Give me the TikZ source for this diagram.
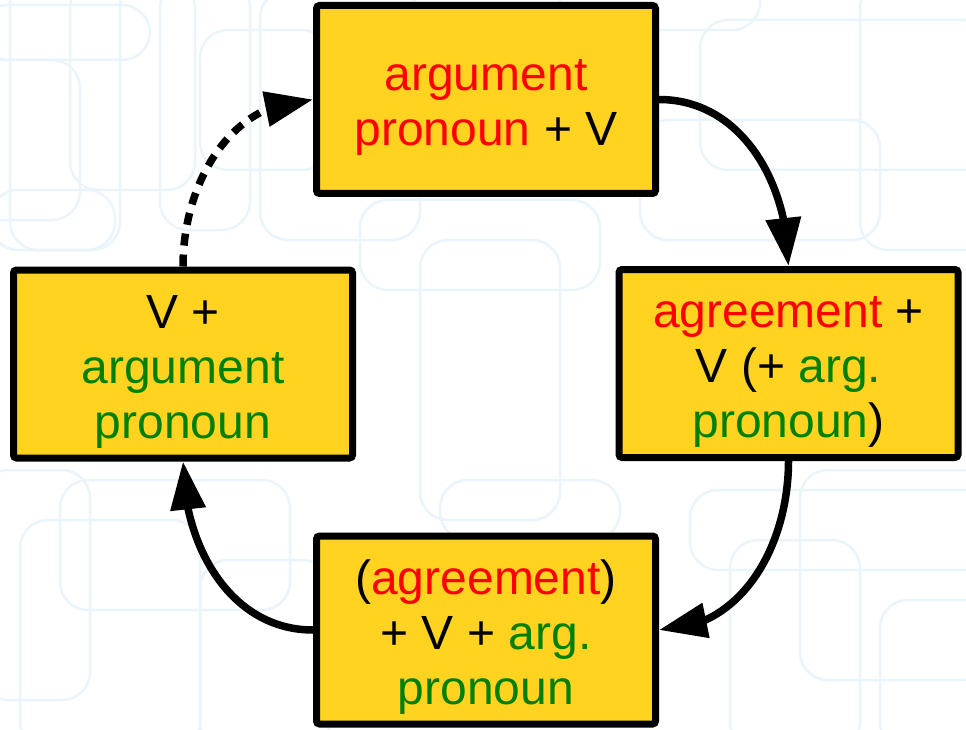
\documentclass[tikz,border=0pt]{standalone}
\usepackage{fontspec}
\setmainfont{Liberation Sans}
\usetikzlibrary{arrows.meta,bending}
\definecolor{boxyellow}{RGB}{255,211,32}
\definecolor{tred}{RGB}{255,0,0}
\definecolor{tgreen}{RGB}{0,128,0}
\definecolor{bgline}{RGB}{234,245,251}
\newcommand\stepcontent[1]{\raisebox{-8pt}[\height][\depth]{\begin{tabular}{@{}c@{}}#1\end{tabular}}}
\begin{document}
\begin{tikzpicture}[x=1pt,y=-1pt,
  stepbox/.style={draw=black, fill=boxyellow, line width=7pt, rounded corners=3pt,
    minimum width=339pt, minimum height=188pt, inner sep=0pt,
    font=\fontsize{48}{55}\selectfont},
  conn/.style={line width=7.5pt, -{Triangle[length=48pt,width=34pt]}},
  bgbox/.style={draw=bgline, line width=2.5pt, rounded corners=28pt}]
\useasboundingbox (0,0) rectangle (966,730);
\fill[white] (0,0) rectangle (966,730);
% faint background pattern
\draw[bgbox] (-20,5) rectangle (150,60);
\draw[bgbox] (10,-30) rectangle (120,250);
\draw[bgbox] (-30,60) rectangle (80,220);
\draw[bgbox] (70,-20) rectangle (195,190);
\draw[bgbox] (-10,190) rectangle (115,250);
\draw[bgbox] (160,-20) rectangle (250,230);
\draw[bgbox] (200,30) rectangle (330,170);
\draw[bgbox] (260,-10) rectangle (420,240);
\draw[bgbox] (560,-25) rectangle (760,30);
\draw[bgbox] (700,20) rectangle (990,170);
\draw[bgbox] (860,-20) rectangle (990,250);
\draw[bgbox] (640,120) rectangle (880,240);
\draw[bgbox] (-20,470) rectangle (90,700);
\draw[bgbox] (20,520) rectangle (200,750);
\draw[bgbox] (60,480) rectangle (290,610);
\draw[bgbox] (200,560) rectangle (330,750);
\draw[bgbox] (690,490) rectangle (990,570);
\draw[bgbox] (730,540) rectangle (860,750);
\draw[bgbox] (800,470) rectangle (990,680);
\draw[bgbox] (880,600) rectangle (990,750);
\draw[bgbox] (440,480) rectangle (620,540);
\draw[bgbox] (360,200) rectangle (600,290);
\draw[bgbox] (420,240) rectangle (560,520);
% boxes
\node[stepbox] (top) at (486,99.5)
  {\stepcontent{\textcolor{tred}{argument}\\\textcolor{tred}{pronoun} + V}};
\node[stepbox] (right) at (788.5,363.5)
  {\stepcontent{\textcolor{tred}{agreement} +\\V (+ \textcolor{tgreen}{arg.}\\\textcolor{tgreen}{pronoun})}};
\node[stepbox] (bottom) at (486,630)
  {\stepcontent{(\textcolor{tred}{agreement})\\+ V + \textcolor{tgreen}{arg.}\\\textcolor{tgreen}{pronoun}}};
\node[stepbox] (left) at (183,364)
  {\stepcontent{V +\\\textcolor{tgreen}{argument}\\\textcolor{tgreen}{pronoun}}};
% connectors
\draw[conn] (top.east) to[out=0,in=90] (right.north);
\draw[conn] (right.south) to[out=-90,in=0] (bottom.east);
\draw[conn] (bottom.west) to[out=180,in=-90] (left.south);
\draw[conn, dash pattern=on 12pt off 9pt] (left.north) to[out=90,in=180] (top.west);
\end{tikzpicture}
\end{document}
